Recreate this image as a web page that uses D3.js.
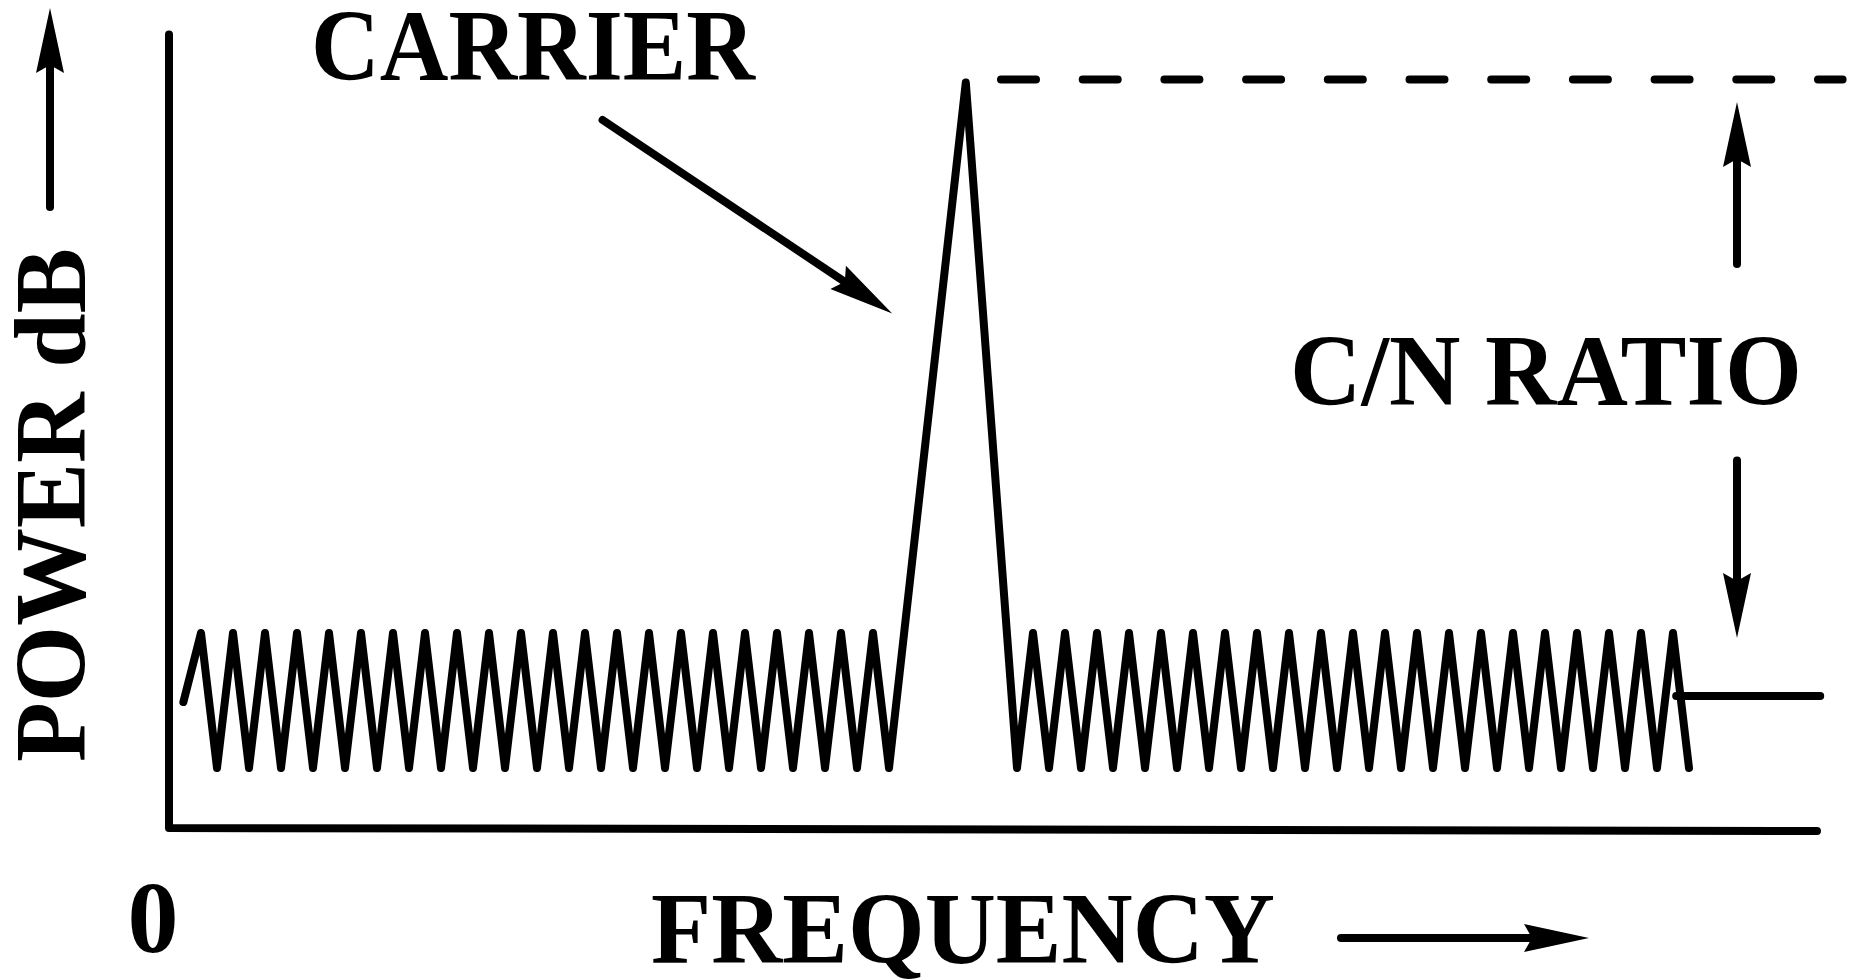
<!DOCTYPE html>
<html>
<head>
<meta charset="utf-8">
<script src="https://cdn.jsdelivr.net/npm/d3@7"></script>
<style>
  html, body { margin: 0; padding: 0; background: #fff; }
  svg { display: block; }
  .label { font-family: "Liberation Serif", "Times New Roman", serif; font-weight: bold; font-size: 102px; fill: #000; }
</style>
</head>
<body>
<svg id="canvas" width="1864" height="980"></svg>
<script>
// frequency in noise periods, power in dB
const leftFreq = [0.45,
  1, 1.5, 2, 2.5, 3, 3.5, 4, 4.5, 5, 5.5, 6, 6.5, 7, 7.5, 8, 8.5, 9, 9.5, 10, 10.5, 11, 11.5,
  12, 12.5, 13, 13.5, 14, 14.5, 15, 15.5, 16, 16.5, 17, 17.5, 18, 18.5, 19, 19.5, 20, 20.5, 21, 21.5, 22, 22.5];
const leftPower = [8.4,
  13, 4, 13, 4, 13, 4, 13, 4, 13, 4, 13, 4, 13, 4, 13, 4, 13, 4, 13, 4, 13, 4,
  13, 4, 13, 4, 13, 4, 13, 4, 13, 4, 13, 4, 13, 4, 13, 4, 13, 4, 13, 4, 13, 4];
const carrierFreq = [24.9];
const carrierPower = [49.7];
const rightFreq = [26.5,
  27, 27.5, 28, 28.5, 29, 29.5, 30, 30.5, 31, 31.5, 32, 32.5, 33, 33.5, 34, 34.5, 35, 35.5, 36, 36.5, 37, 37.5,
  38, 38.5, 39, 39.5, 40, 40.5, 41, 41.5, 42, 42.5, 43, 43.5, 44, 44.5, 45, 45.5, 46, 46.5, 47, 47.5];
const rightPower = [4,
  13, 4, 13, 4, 13, 4, 13, 4, 13, 4, 13, 4, 13, 4, 13, 4, 13, 4, 13, 4, 13, 4,
  13, 4, 13, 4, 13, 4, 13, 4, 13, 4, 13, 4, 13, 4, 13, 4, 13, 4, 13, 4];

const carrierLevel = 49.9;   // dB, dashed reference
const noiseLevel = 8.8;      // dB, noise floor reference
const carrierLevelSpan = [26, 52.3];
const noiseLevelSpan = [47.1, 51.6];
const cnFreq = 49;

const svg = d3.select("#canvas");
const x = d3.scaleLinear().domain([0, 51.6]).range([169, 1820.2]);
const y = d3.scaleLinear().domain([0, 53.2]).range([828, 30]);

const line = d3.line().x(d => x(d[0])).y(d => y(d[1]));
const stroke = 8;

function trazo(puntos, dash) {
    const p = svg.append("path")
        .attr("d", line(puntos))
        .attr("fill", "none")
        .attr("stroke", "#000")
        .attr("stroke-width", stroke)
        .attr("stroke-linecap", "round")
        .attr("stroke-linejoin", "round");
    if (dash) p.attr("stroke-dasharray", dash);
    return p;
}

// punta de flecha con muesca, en píxeles
function flecha(x1, y1, x2, y2) {
    const ang = Math.atan2(y2 - y1, x2 - x1);
    const largo = 65, medio = 14, muesca = 8;
    const bx = x2 - Math.cos(ang) * (largo - muesca);
    const by = y2 - Math.sin(ang) * (largo - muesca);
    svg.append("line")
        .attr("x1", x1).attr("y1", y1).attr("x2", bx).attr("y2", by)
        .attr("stroke", "#000").attr("stroke-width", stroke).attr("stroke-linecap", "round");
    svg.append("path")
        .attr("d", `M0,0 L${-largo},${-medio} L${-(largo - muesca)},0 L${-largo},${medio} Z`)
        .attr("transform", `translate(${x2},${y2}) rotate(${ang * 180 / Math.PI})`)
        .attr("fill", "#000");
}

// ejes (el eje horizontal baja apenas hacia la derecha, como en el original)
trazo([[0, 52.9], [0, 0], [51.5, -0.2]]);

// espectro: ruido, portadora, ruido
const espectro = d3.zip(leftFreq, leftPower)
    .concat(d3.zip(carrierFreq, carrierPower))
    .concat(d3.zip(rightFreq, rightPower));
trazo(espectro);

// niveles de referencia
trazo(carrierLevelSpan.map(f => [f, carrierLevel]), "35 46.7");
trazo(noiseLevelSpan.map(f => [f, noiseLevel]));

// flechas C/N
flecha(x(cnFreq), y(37.6), x(cnFreq), y(48.4));
flecha(x(cnFreq), y(24.5), x(cnFreq), y(12.67));

// flecha hacia la portadora
flecha(x(13.55), y(47.2), x(22.6), y(34.3));

// flechas de los rótulos de ejes
flecha(50, 207, 50, 8);
flecha(1341, 938, 1589, 938);

// textos
svg.append("text").attr("class", "label")
    .attr("x", 311).attr("y", 80)
    .attr("textLength", 444).attr("lengthAdjust", "spacingAndGlyphs")
    .text("CARRIER");
svg.append("text").attr("class", "label")
    .attr("x", 1290).attr("y", 405)
    .attr("textLength", 512).attr("lengthAdjust", "spacingAndGlyphs")
    .text("C/N RATIO");
svg.append("text").attr("class", "label")
    .attr("x", 651).attr("y", 963)
    .attr("textLength", 624).attr("lengthAdjust", "spacingAndGlyphs")
    .text("FREQUENCY");
svg.append("text").attr("class", "label")
    .attr("x", 153).attr("y", 952)
    .attr("text-anchor", "middle")
    .text("0");
svg.append("text").attr("class", "label")
    .attr("transform", "translate(85,762) rotate(-90)")
    .attr("textLength", 514).attr("lengthAdjust", "spacingAndGlyphs")
    .text("POWER dB");
</script>
</body>
</html>
